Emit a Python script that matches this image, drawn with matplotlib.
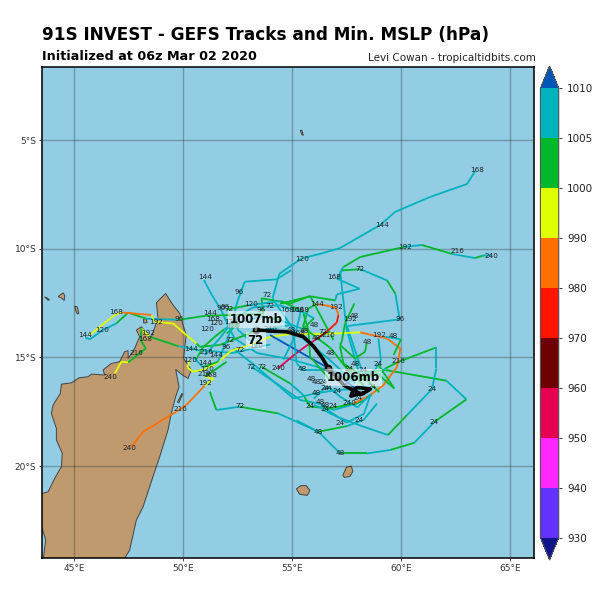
import numpy as np
import matplotlib
matplotlib.use('Agg')
import matplotlib.pyplot as plt
from matplotlib.collections import LineCollection
from matplotlib.colors import ListedColormap, BoundaryNorm
from matplotlib.colorbar import ColorbarBase

# colour scale
levels = [930, 940, 950, 960, 970, 980, 990, 1000, 1005, 1010]
level_colors = ['#6432FF', '#FF28FF', '#E80050', '#6E0000', '#FF1400',
                '#FF7000', '#E0FF00', '#00B82A', '#00B2BE']
over_color = '#0055BB'
under_color = '#10148C'

# coastlines
madagascar_lon = [43.0, 43.55, 43.81, 44.11, 44.42, 44.46, 44.19, 44.19, 43.96, 44.04, 44.37, 44.42,
                  44.88, 45.23, 45.64, 45.80, 46.41, 46.33, 46.71, 47.09, 47.32, 47.48, 47.48, 47.78,
                  48.01, 47.86, 48.09, 48.39, 48.55, 48.85, 48.78, 49.20, 49.54, 49.85, 50.00, 50.15,
                  50.08, 50.03, 50.38, 50.23, 49.97, 49.66, 49.82, 49.66, 49.46, 49.31, 48.93, 48.62,
                  48.17, 47.86, 47.55, 47.32, 47.0, 43.7, 43.6, 43.7, 43.55, 43.0]
madagascar_lat = [-21.3, -21.26, -21.18, -20.57, -20.03, -19.42, -18.80, -18.27, -17.58, -17.19, -16.66, -16.23,
                  -16.17, -15.94, -15.89, -15.77, -15.81, -15.58, -15.28, -15.20, -14.74, -14.69, -15.05, -14.59,
                  -14.05, -13.74, -13.59, -13.97, -14.05, -13.21, -12.48, -12.06, -12.59, -12.98, -13.51, -13.97,
                  -14.51, -15.05, -15.58, -15.97, -15.81, -15.55, -16.35, -16.81, -17.58, -18.34, -19.57, -20.49,
                  -21.87, -22.48, -23.87, -24.25, -24.6, -24.6, -24.2, -23.4, -22.9, -22.9]
mauritius_lon = [57.33, 57.5, 57.72, 57.79, 57.65, 57.4]
mauritius_lat = [-20.42, -20.05, -20.0, -20.25, -20.48, -20.52]
reunion_lon = [55.2, 55.4, 55.65, 55.82, 55.7, 55.35]
reunion_lat = [-21.05, -20.9, -20.9, -21.12, -21.35, -21.3]
comoro1_lon = [43.65, 43.75, 43.88, 43.8]
comoro1_lat = [-12.22, -12.25, -12.36, -12.36]
comoro2_lon = [44.27, 44.5, 44.57, 44.55, 44.42]
comoro2_lat = [-12.2, -12.03, -12.15, -12.38, -12.27]
mayotte_lon = [45.03, 45.15, 45.22, 45.15, 45.08]
mayotte_lat = [-12.65, -12.68, -12.98, -13.0, -12.85]
mahe_lon = [55.38, 55.45, 55.52, 55.45]
mahe_lat = [-4.55, -4.55, -4.78, -4.75]
marie_lon = [49.75, 49.95, 49.98, 49.8]
marie_lat = [-17.05, -16.65, -16.7, -17.1]
nosy_lon = [48.18, 48.3, 48.35, 48.2]
nosy_lat = [-13.25, -13.2, -13.4, -13.42]

# ensemble tracks
t01_lon = [57.9, 56.6, 55.2, 54.1, 54.42, 55.44, 56.42, 57.2, 59.04, 59.72, 61.33, 63.03, 63.4]
t01_lat = [-16.2, -15.0, -13.9, -12.3, -11.15, -10.45, -10.2, -9.97, -8.91, -8.31, -7.62, -7.02, -6.43]
t01_mslp = [1007] * 13
t02_lon = [58.1, 57.5, 57.21, 57.36, 58.13, 60.17, 60.96, 62.34, 63.4, 63.75, 64.14]
t02_lat = [-15.8, -13.7, -11.07, -10.84, -10.38, -9.91, -9.83, -10.24, -10.43, -10.32, -10.3]
t02_mslp = [1007, 1007, 1007, 1003, 1003, 1007, 1003, 1007, 1003, 1007, 1007]
t03_lon = [58.3, 57.52, 59.94, 59.74, 59.36, 58.13, 57.29, 57.06, 58.1, 57.06, 56.98, 55.83, 54.45]
t03_lat = [-15.9, -13.56, -13.25, -12.07, -11.46, -10.94, -11.0, -11.38, -11.84, -12.1, -12.38, -12.19, -12.53]
t03_mslp = [1007, 1007, 1007, 1003, 1007, 1003, 1007, 1007, 1007, 1007, 1003, 1003, 1007]
t04_lon = [58.3, 59.28, 62.08, 63.0, 61.54, 60.61, 59.51, 58.44, 57.21, 56.67, 56.21, 54.37, 52.61, 51.53, 51.23]
t04_lat = [-15.7, -15.58, -16.07, -16.93, -17.96, -18.93, -19.26, -19.42, -19.42, -18.88, -18.42, -17.58, -17.27, -17.42, -16.58]
t04_mslp = [1003, 1003, 1007, 1003, 1007, 1003, 1007, 1003, 1007, 1007, 1007, 1003, 1007, 1003, 1003]
t05_lon = [59.0, 59.28, 59.89, 61.62, 61.62, 61.42, 60.28, 59.4, 58.28, 57.06, 56.44]
t05_lat = [-15.8, -15.51, -15.2, -14.54, -15.51, -16.46, -17.65, -18.57, -18.19, -17.73, -17.42]
t05_mslp = [1007, 1003, 1003, 1007, 1007, 1007, 1003, 1007, 1007, 1007, 1007]
t06_lon = [58.9, 58.28, 57.52, 56.21, 55.2]
t06_lat = [-17.12, -17.88, -18.16, -18.42, -17.9]
t06_mslp = [1007, 1007, 1003, 1007, 1007]
t07_lon = [58.67, 57.98, 56.9, 56.21, 55.37, 54.29, 53.14]
t07_lat = [-16.73, -17.12, -17.42, -17.12, -16.96, -16.2, -15.43]
t07_mslp = [1007] * 7
t08_lon = [58.2, 56.75, 55.83, 55.52, 54.91, 53.6]
t08_lat = [-17.04, -17.35, -17.27, -16.73, -16.2, -15.43]
t08_mslp = [1003, 1003, 1003, 1007, 1003, 1003]
t09_lon = [58.44, 57.06, 56.06, 55.06, 53.37, 52.3]
t09_lat = [-16.43, -16.5, -16.66, -16.89, -15.43, -14.59]
t09_mslp = [1007] * 6
t10_lon = [56.7, 55.0, 53.4, 52.37, 52.06, 51.73, 51.3, 50.96]
t10_lat = [-15.6, -15.1, -14.8, -14.13, -13.51, -12.79, -12.09, -11.44]
t10_mslp = [1007] * 8
t11_lon = [54.97, 54.28, 52.83, 52.49, 52.34, 52.52, 53.4]
t11_lat = [-10.98, -11.41, -11.52, -12.44, -13.05, -13.74, -14.5]
t11_mslp = [1007] * 7
t12_lon = [56.9, 55.83, 54.91, 53.6, 53.68, 52.3, 51.07, 49.80, 48.32, 47.48, 46.94, 46.33, 45.72, 45.52]
t12_lat = [-14.2, -12.18, -12.52, -12.28, -12.98, -13.05, -13.08, -13.27, -13.22, -12.94, -13.44, -13.74, -14.17, -14.08]
t12_mslp = [1003, 1003, 1003, 1003, 1003, 1003, 1003, 1007, 1003, 1003, 1007, 1007, 1007, 1007]
t13_lon = [55.0, 53.3, 51.68, 50.76, 50.61, 49.54, 48.70, 48.55, 47.17, 46.87, 46.18, 45.72]
t13_lat = [-13.5, -13.8, -14.43, -14.51, -14.36, -13.44, -13.36, -13.05, -12.93, -13.05, -13.59, -13.97]
t13_mslp = [1007, 1003, 1003, 1003, 995, 995, 995, 985, 995, 995, 995, 995]
t14_lon = [54.0, 52.3, 50.69, 49.77, 48.47, 48.09, 48.06, 48.29, 47.48, 47.17, 46.87]
t14_lat = [-14.4, -14.8, -14.66, -14.48, -14.05, -13.67, -14.2, -14.59, -15.23, -15.2, -15.74]
t14_mslp = [1007, 1007, 1007, 1003, 995, 1003, 1003, 1003, 995, 995, 995]
t15_lon = [50.31, 50.20, 50.46, 50.99, 51.53, 52.22, 53.07, 54.0, 54.91, 56.13, 58.13, 59.36, 59.97, 59.82, 59.2, 58.59, 57.82]
t15_lat = [-15.12, -15.46, -15.66, -15.55, -15.28, -14.69, -14.43, -14.05, -13.93, -13.93, -13.85, -14.13, -14.59, -15.43, -16.27, -16.73, -17.12]
t15_mslp = [995] * 10 + [985] * 7
t16_lon = [52.0, 51.0, 51.41, 50.99, 50.15, 49.69, 48.17, 47.63]
t16_lat = [-15.2, -15.9, -15.97, -16.3, -17.19, -17.5, -18.42, -19.11]
t16_mslp = [1003, 995, 995, 985, 985, 985, 985, 985]
t17_lon = [58.3, 57.5, 56.8, 55.5, 55.75, 56.13, 56.44, 57.0, 57.13, 57.05, 56.59, 56.28, 56.05, 55.6, 55.14, 54.36]
t17_lat = [-16.3, -15.5, -14.6, -13.6, -12.75, -12.55, -12.59, -12.7, -13.05, -13.4, -13.82, -14.05, -14.2, -14.51, -14.85, -15.5]
t17_mslp = [1003, 1003, 1003, 1003, 1003, 985, 985, 985, 975, 975, 965, 965, 955, 955, 955, 945]
t18_lon = [57.86, 57.43, 57.28, 57.2, 57.89, 58.35, 58.42]
t18_lat = [-12.52, -13.44, -14.28, -14.43, -15.05, -14.74, -14.36]
t18_mslp = [1003] * 7
t19_lon = [58.96, 59.08, 58.81, 58.1, 57.3]
t19_lat = [-14.13, -15.12, -15.58, -15.9, -16.3]
t19_mslp = [1007] * 5
t20_lon = [59.28, 60.0, 59.66]
t20_lat = [-14.05, -14.17, -14.89]
t20_mslp = [1007, 1003, 1003]
t21_lon = [53.99, 56.67, 58.0]
t21_lat = [-13.97, -15.5, -16.5]
t21_mslp = [1012, 1012, 1012]
t22_lon = [52.0, 53.0, 54.5, 55.3, 56.0, 55.5, 54.5, 53.6, 52.6, 52.0]
t22_lat = [-12.8, -12.6, -12.4, -12.8, -13.2, -13.7, -13.3, -13.1, -13.4, -13.9]
t22_mslp = [1003, 1007, 1003, 1007, 1003, 1007, 1003, 1007, 1003, 1007]
t23_lon = [51.0, 51.7, 52.4, 53.2, 54.4, 55.4, 55.1, 54.6]
t23_lat = [-14.9, -14.1, -13.2, -12.7, -12.6, -12.9, -14.1, -15.1]
t23_mslp = [1007] * 8
t24_lon = [55.06, 55.21, 55.52, 56.75, 57.9]
t24_lat = [-13.74, -15.28, -15.58, -15.58, -15.9]
t24_mslp = [1007] * 5
t25_lon = [55.52, 55.75, 55.83, 56.75, 58.9]
t25_lat = [-12.98, -13.74, -14.97, -16.04, -15.74]
t25_mslp = [1003] * 5
t26_lon = [57.2, 57.36, 58.28, 59.0]
t26_lat = [-14.5, -15.28, -15.89, -16.6]
t26_mslp = [1003] * 4
t27_lon = [58.97, 59.69, 58.9, 58.2]
t27_lat = [-15.35, -16.43, -15.74, -16.0]
t27_mslp = [1003] * 4
t28_lon = [56.0, 56.6, 57.2, 58.0, 58.6, 58.3, 57.5, 56.6, 56.0]
t28_lat = [-16.9, -16.3, -16.8, -17.3, -16.7, -17.6, -18.0, -17.4, -17.2]
t28_mslp = [1007] * 9
t29_lon = [50.6, 50.9, 51.4, 51.9, 52.3, 51.6, 50.9, 50.5]
t29_lat = [-15.1, -14.55, -14.1, -13.7, -13.5, -15.2, -15.45, -15.0]
t29_mslp = [1003, 1003, 1003, 1007, 1007, 1003, 1007, 1003]

# ensemble mean track
mean_lon = [58.28, 57.70, 57.79, 57.98, 58.59, 58.2, 57.4, 56.67, 56.37, 55.98, 55.52, 54.75, 53.99, 53.34]
mean_lat = [-16.63, -16.78, -16.53, -16.38, -16.46, -16.7, -16.3, -15.5, -15.0, -14.48, -14.05, -13.82, -13.79, -13.74]

# forecast hour labels
hour_lon = [51.03, 56.93, 52.56, 53.87, 53.14, 53.99, 53.56, 56.13, 57.01, 51.23, 51.76, 51.92, 52.1, 54.79,
            55.21, 55.44, 51.53, 51.38, 52.22, 52.3, 51.1, 56.03, 57.85, 57.64, 59.97, 55.55, 54.98, 55.29,
            56.67, 56.4, 59.0, 59.63, 58.47, 56.13, 53.99, 52.15, 51.99, 52.6, 53.33, 51.07, 51.5,
            51.03, 51.1, 51.0, 51.26, 51.0, 53.14, 53.63, 54.37, 56.75, 57.9, 57.62, 58.28, 58.97, 59.86,
            55.48, 55.9, 56.1, 56.44, 56.52, 56.67, 57.09, 56.09, 55.83, 56.29, 56.52, 56.52, 56.87, 57.64,
            58.05, 57.21, 58.08, 56.21, 57.21, 52.61, 58.67, 46.91, 45.52, 46.3, 48.75, 49.8, 48.39, 48.24,
            47.86, 46.67, 50.35, 50.34, 49.89, 47.52, 63.47, 59.14, 55.44, 60.17, 62.59, 64.14, 58.13,
            61.42, 61.54]
hour_lat = [-11.32, -11.32, -11.98, -12.13, -12.55, -12.62, -12.82, -12.55, -12.7, -12.98, -12.75, -12.7, -12.78, -12.82,
            -12.82, -12.82, -13.4, -13.25, -13.36, -13.56, -13.71, -13.51, -13.1, -13.25, -13.25, -13.77, -13.74, -13.87,
            -13.97, -13.85, -13.97, -14.0, -14.31, -14.1, -13.7, -14.2, -14.54, -14.66, -14.46, -14.74, -14.89,
            -15.25, -15.54, -15.77, -15.81, -16.17, -15.43, -15.43, -15.48, -14.79, -15.32, -15.54, -15.58, -15.32, -15.15,
            -15.55, -16.0, -16.15, -16.15, -16.43, -16.43, -16.53, -16.66, -17.24, -17.07, -17.19, -17.38, -17.24, -17.12,
            -16.89, -18.0, -17.88, -18.42, -19.42, -17.24, -16.38, -12.93, -13.97, -13.74, -13.36, -13.25, -13.87, -14.16,
            -14.82, -15.9, -14.63, -15.12, -17.39, -19.19, -6.37, -8.91, -10.46, -9.91, -10.11, -10.32, -10.92,
            -16.46, -17.98]
hour_text = ['144', '168', '96', '72', '120', '72', '96', '144', '192', '144', '96', '96', '72', '168',
             '168', '168', '120', '168', '120', '120', '120', '48', '48', '192', '96', '48', '48', '168',
             '216', '72', '192', '48', '48', '48', '240', '72', '96', '72', '120', '216', '144',
             '144', '120', '216', '168', '192', '72', '72', '240', '48', '48', '24', '24', '24', '216',
             '48', '48', '48', '24', '24', '24', '24', '48', '24', '48', '48', '24', '24', '240',
             '24', '24', '24', '48', '48', '72', '24', '168', '144', '120', '192', '96', '192', '168',
             '216', '240', '144', '120', '216', '240', '168', '144', '120', '192', '216', '240', '72',
             '24', '24']

lon_ticks = [45, 50, 55, 60, 65]
lat_ticks = [-5, -10, -15, -20]
cbar_ticks = [930, 940, 950, 960, 970, 980, 990, 1000, 1005, 1010]

tracks = [(t01_lon, t01_lat, t01_mslp), (t02_lon, t02_lat, t02_mslp), (t03_lon, t03_lat, t03_mslp),
          (t04_lon, t04_lat, t04_mslp), (t05_lon, t05_lat, t05_mslp), (t06_lon, t06_lat, t06_mslp),
          (t07_lon, t07_lat, t07_mslp), (t08_lon, t08_lat, t08_mslp), (t09_lon, t09_lat, t09_mslp),
          (t10_lon, t10_lat, t10_mslp), (t11_lon, t11_lat, t11_mslp), (t12_lon, t12_lat, t12_mslp),
          (t13_lon, t13_lat, t13_mslp), (t14_lon, t14_lat, t14_mslp), (t15_lon, t15_lat, t15_mslp),
          (t16_lon, t16_lat, t16_mslp), (t17_lon, t17_lat, t17_mslp), (t18_lon, t18_lat, t18_mslp),
          (t19_lon, t19_lat, t19_mslp), (t20_lon, t20_lat, t20_mslp), (t21_lon, t21_lat, t21_mslp),
          (t22_lon, t22_lat, t22_mslp), (t23_lon, t23_lat, t23_mslp), (t24_lon, t24_lat, t24_mslp),
          (t25_lon, t25_lat, t25_mslp), (t26_lon, t26_lat, t26_mslp), (t27_lon, t27_lat, t27_mslp),
          (t28_lon, t28_lat, t28_mslp), (t29_lon, t29_lat, t29_mslp)]

cmap = ListedColormap(level_colors)
cmap.set_over(over_color)
cmap.set_under(under_color)
norm = BoundaryNorm(levels, cmap.N)

figure = plt.figure(figsize=(6, 6), dpi=100)
axes = figure.add_axes([0.07, 0.07, 0.82, 0.8183], facecolor='#92CDE3')

for lon, lat in [(madagascar_lon, madagascar_lat), (mauritius_lon, mauritius_lat), (reunion_lon, reunion_lat),
                 (comoro1_lon, comoro1_lat), (comoro2_lon, comoro2_lat), (mayotte_lon, mayotte_lat),
                 (mahe_lon, mahe_lat), (marie_lon, marie_lat), (nosy_lon, nosy_lat)]:
    axes.fill(lon, lat, facecolor='#BE9A6E', edgecolor='#444444', linewidth=0.7, zorder=1)

for lon, lat, mslp in tracks:
    points = np.column_stack((lon, lat))
    segments = np.stack((points[:-1], points[1:]), axis=1)
    lines = LineCollection(segments, cmap=cmap, norm=norm, linewidths=1.3, zorder=3)
    lines.set_array(np.array(mslp[:-1]))
    axes.add_collection(lines)

for lon, lat, text in zip(hour_lon, hour_lat, hour_text):
    axes.text(lon, lat, text, fontsize=5.2, color='#222222', ha='center', va='center', zorder=4)

axes.plot(mean_lon, mean_lat, color='black', linewidth=2.6, solid_capstyle='round', zorder=5)
axes.plot([53.34, 56.67], [-13.74, -15.5], 'o', color='black', markersize=4.5, zorder=5)

box = dict(facecolor='white', edgecolor='none', alpha=0.55, pad=1.5)
axes.annotate('1007mb', xy=(53.34, -13.74), xytext=(53.37, -13.25), fontsize=8.5, fontweight='bold',
              ha='center', va='center', bbox=box, zorder=6,
              arrowprops=dict(arrowstyle='-', color='#777777', linewidth=2))
axes.annotate('1006mb', xy=(56.67, -15.5), xytext=(57.82, -15.93), fontsize=8.5, fontweight='bold',
              ha='center', va='center', bbox=box, zorder=6,
              arrowprops=dict(arrowstyle='-', color='#777777', linewidth=2))
axes.text(53.34, -14.22, '72', fontsize=8.5, fontweight='bold', ha='center', va='center', bbox=box, zorder=6)

axes.set_xlim(43.53, 66.1)
axes.set_ylim(-24.23, -1.64)
axes.set_xticks(lon_ticks)
axes.set_xticklabels(['%d°E' % x for x in lon_ticks])
axes.set_yticks(lat_ticks)
axes.set_yticklabels(['%d°S' % -y for y in lat_ticks])
axes.tick_params(labelsize=6.5, colors='#333333', length=2, width=0.6, pad=2)
axes.grid(True, color='#333333', alpha=0.35, linewidth=1, zorder=2)
axes.set_axisbelow(False)
for spine in axes.spines.values():
    spine.set_linewidth(1.1)

cbar_axes = figure.add_axes([0.9007, 0.0667, 0.0305, 0.8233])
colorbar = ColorbarBase(cbar_axes, cmap=cmap, norm=norm, extend='both', extendfrac=0.05,
                        spacing='uniform', ticks=cbar_ticks)
colorbar.ax.tick_params(labelsize=7.5, length=2.5, width=0.6, colors='#222222')
colorbar.outline.set_edgecolor('#555555')
colorbar.outline.set_linewidth(0.8)

figure.text(0.07, 0.9417, '91S INVEST - GEFS Tracks and Min. MSLP (hPa)', fontsize=12.2, fontweight='bold', va='center')
figure.text(0.07, 0.905, 'Initialized at 06z Mar 02 2020', fontsize=9.2, fontweight='bold', va='center')
figure.text(0.893, 0.903, 'Levi Cowan - tropicaltidbits.com', fontsize=7.5, ha='right', va='center', color='#222222')

figure.savefig('out.png', dpi=100)
